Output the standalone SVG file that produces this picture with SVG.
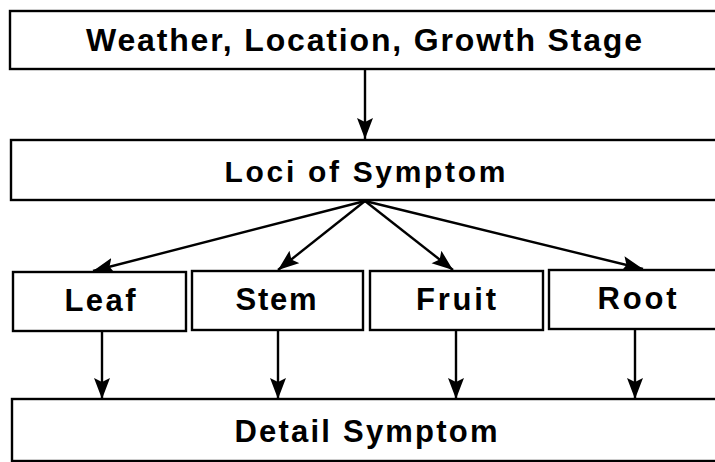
<svg xmlns="http://www.w3.org/2000/svg" width="715" height="462" viewBox="0 0 715 462">
  <style>
    .box { fill: #ffffff; stroke: #000000; stroke-width: 2.4; }
    .label { font-family: "Liberation Sans", Arial, sans-serif; font-weight: bold; fill: #000000; text-anchor: middle; }
    .link { stroke: #000000; stroke-width: 2.4; fill: none; marker-end: url(#head); }
  </style>
  <defs>
    <marker id="head" markerUnits="userSpaceOnUse" markerWidth="24" markerHeight="18" refX="21" refY="8" orient="auto">
      <polygon points="0,0 21,8 0,16 4,8" fill="#000000"/>
    </marker>
  </defs>
  <rect width="715" height="462" fill="#ffffff"/>

  <g id="connectors">
    <line class="link" x1="365" y1="69" x2="365" y2="139"/>
    <line class="link" x1="365" y1="201" x2="93" y2="271"/>
    <line class="link" x1="365" y1="201" x2="278" y2="270"/>
    <line class="link" x1="365" y1="201" x2="453" y2="270"/>
    <line class="link" x1="365" y1="201" x2="643" y2="269"/>
    <line class="link" x1="102" y1="331" x2="102" y2="399"/>
    <line class="link" x1="278" y1="330" x2="278" y2="399"/>
    <line class="link" x1="456" y1="330" x2="456" y2="399"/>
    <line class="link" x1="635" y1="329" x2="635" y2="399"/>
  </g>

  <g id="context">
    <rect class="box" x="10" y="11" width="720" height="58"/>
    <text class="label" x="364" y="51" font-size="32" textLength="556" lengthAdjust="spacing">Weather, Location, Growth Stage</text>
  </g>

  <g id="loci">
    <rect class="box" x="11" y="140" width="720" height="60"/>
    <text class="label" x="365" y="182" font-size="30" textLength="281" lengthAdjust="spacing">Loci of Symptom</text>
  </g>

  <g id="leaf">
    <rect class="box" x="13" y="272" width="173" height="59"/>
    <text class="label" x="100" y="311" font-size="31" textLength="71" lengthAdjust="spacing">Leaf</text>
  </g>

  <g id="stem">
    <rect class="box" x="192" y="271" width="171" height="59"/>
    <text class="label" x="276" y="310" font-size="31" textLength="81" lengthAdjust="spacing">Stem</text>
  </g>

  <g id="fruit">
    <rect class="box" x="370" y="271" width="173" height="59"/>
    <text class="label" x="456" y="310" font-size="31" textLength="80" lengthAdjust="spacing">Fruit</text>
  </g>

  <g id="root">
    <rect class="box" x="549" y="270" width="175" height="59"/>
    <text class="label" x="637" y="309" font-size="31" textLength="79" lengthAdjust="spacing">Root</text>
  </g>

  <g id="detail">
    <rect class="box" x="12" y="399" width="720" height="62"/>
    <text class="label" x="366" y="442" font-size="31" textLength="263" lengthAdjust="spacing">Detail Symptom</text>
  </g>
</svg>
